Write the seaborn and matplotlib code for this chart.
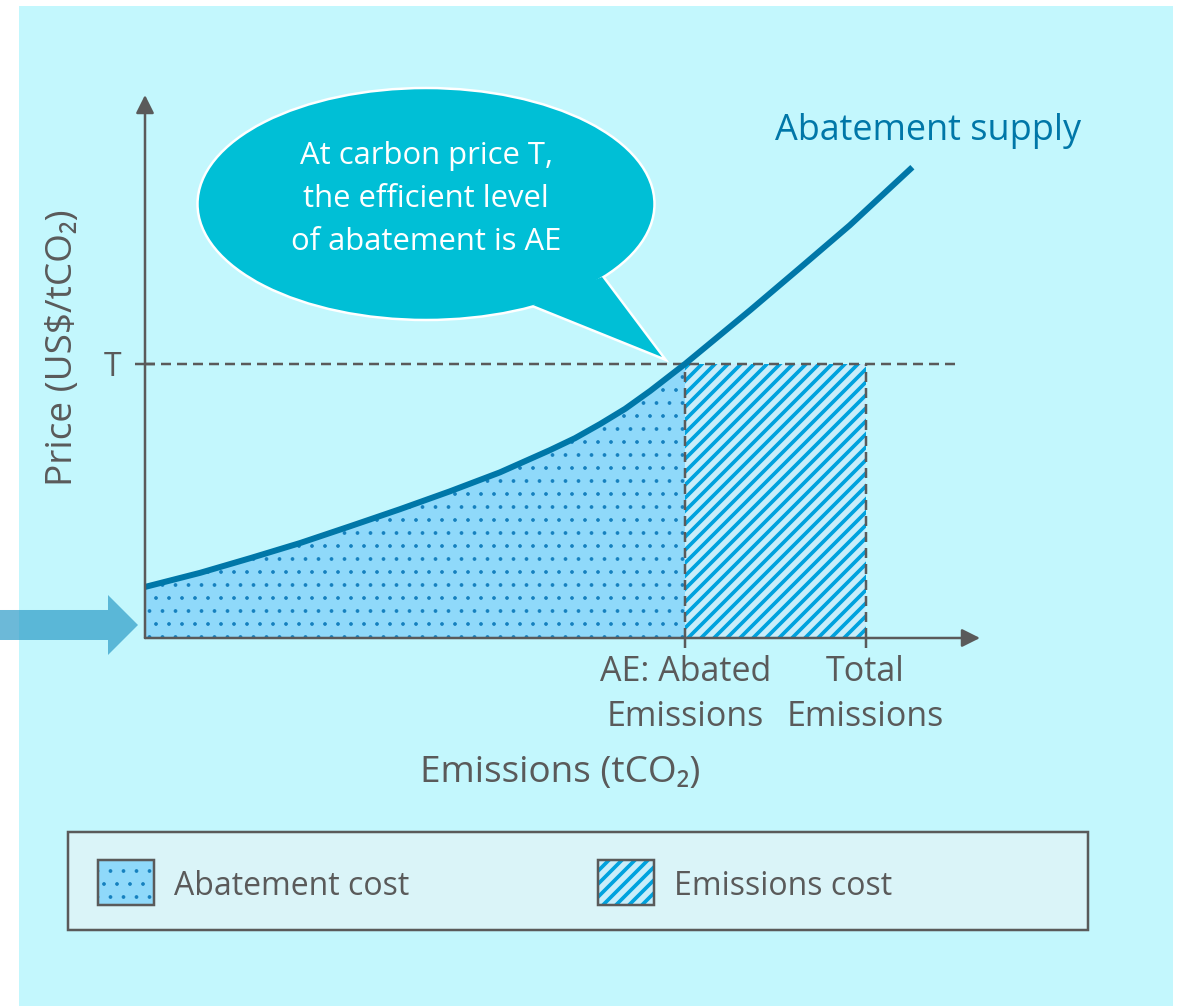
from matplotlib.patches import Ellipse, FancyArrow, Polygon, Rectangle
import matplotlib.pyplot as plt
import pandas as pd
import seaborn as sns

sns.set_theme(style="white")
plt.rcParams["font.family"] = ["Open Sans", "DejaVu Sans"]

DPI = 78
W, H = 1178, 1006


def pt(px):
    return px * 72 / DPI


# values (x: emissions, y: price, arbitrary units 0-10)
emissions = [0.00, 0.66, 1.26, 1.86, 2.46, 3.05, 3.65, 4.25, 4.85, 5.15,
             5.45, 5.75, 6.05, 6.26, 6.47, 7.25, 7.84, 8.44, 9.19]
price = [0.94, 1.20, 1.47, 1.75, 2.06, 2.37, 2.70, 3.05, 3.46, 3.68,
         3.94, 4.22, 4.55, 4.80, 5.05, 6.04, 6.81, 7.60, 8.67]
carbon_price = 5.05
abated_emissions = 6.47
total_emissions = 8.63
price_line_end = 9.70
x_tick_labels = ["AE: Abated\nEmissions", "Total\nEmissions"]
y_tick_labels = ["T"]
legend_labels = ["Abatement cost", "Emissions cost"]
bubble_text = "At carbon price T,\nthe efficient level\nof abatement is AE"
curve_label = "Abatement supply"

BG = "#C3F7FD"
GREY = "#5A5A5A"
CURVE = "#0077A8"
DOT_FILL = "#8FD9FA"
DOT_COLOR = "#1580BE"
STRIPE_FILL = "#C8EDFA"
STRIPE_COLOR = "#00A2DE"
BUBBLE = "#00BFD6"
LEGEND_BG = "#DAF4F8"
ARROW = "#2E9CC8"

df = pd.DataFrame({"emissions": emissions, "price": price})

fig = plt.figure(figsize=((W + 0.01) / DPI, (H + 0.01) / DPI), dpi=DPI, facecolor="white")

# background layer in pixel units for the decorations
bg = fig.add_axes([0, 0, 1, 1], zorder=0)
bg.set_xlim(0, W)
bg.set_ylim(H, 0)
bg.axis("off")
bg.add_patch(Rectangle((19, 6), 1154, 1000, facecolor=BG, edgecolor="none"))

# speech bubble
tail = [(533, 305), (662, 357), (602, 277)]
bg.add_patch(Polygon(tail, closed=True, facecolor=BUBBLE, edgecolor="white",
                     lw=pt(5), joinstyle="miter", zorder=2))
bg.add_patch(Ellipse((426, 204), 457, 232, facecolor=BUBBLE, edgecolor="white",
                     lw=pt(2.5), zorder=3))
bg.add_patch(Polygon(tail, closed=True, facecolor=BUBBLE, edgecolor="none", zorder=4))
bg.text(426, 199, bubble_text, ha="center", va="center", color="white",
        fontsize=pt(31), linespacing=1.58, zorder=5)

bg.text(775, 140, curve_label, ha="left", va="baseline", color=CURVE, fontsize=pt(36))

# arrow on the left
bg.add_patch(FancyArrow(0, 625, 138, 0, width=30, head_width=60, head_length=30,
                        length_includes_head=True, facecolor=ARROW, edgecolor="none",
                        alpha=0.7, zorder=2))

# legend box
bg.add_patch(Rectangle((68, 832), 1020, 98, facecolor=LEGEND_BG, edgecolor=GREY,
                       lw=pt(2.5), zorder=2))
swatches = [
    (98, DOT_FILL, DOT_COLOR, ".", 1.0),
    (598, STRIPE_FILL, STRIPE_COLOR, "//", 3.4),
]
for (x0, fc, hc, hatch, hlw), label in zip(swatches, legend_labels):
    sw = Rectangle((x0, 860), 56, 45, facecolor=fc, edgecolor=hc, hatch=hatch, lw=0, zorder=3)
    if hasattr(sw, "set_hatch_linewidth"):
        sw.set_hatch_linewidth(hlw)
    bg.add_patch(sw)
    bg.add_patch(Rectangle((x0, 860), 56, 45, facecolor="none", edgecolor=GREY,
                           lw=pt(2.5), zorder=4))
    bg.text(x0 + 76, 895, label, ha="left", va="baseline", color=GREY, fontsize=pt(32))

# main chart
ax = fig.add_axes([145 / W, 1 - 638 / H, (980 - 145) / W, (638 - 95) / H], zorder=1)
ax.patch.set_visible(False)
ax.set_xlim(0, 10)
ax.set_ylim(0, 10)
for s in ax.spines.values():
    s.set_visible(False)

under = df[df["emissions"] <= abated_emissions]
dots = ax.fill_between(under["emissions"], 0, under["price"], facecolor=DOT_FILL,
                       edgecolor=DOT_COLOR, hatch=".", linewidth=0, zorder=1)
stripes = Rectangle((abated_emissions, 0), total_emissions - abated_emissions, carbon_price,
                    facecolor=STRIPE_FILL, edgecolor=STRIPE_COLOR, hatch="//", lw=0, zorder=1)
ax.add_patch(stripes)
if hasattr(stripes, "set_hatch_linewidth"):
    stripes.set_hatch_linewidth(3.4)
    dots.set_hatch_linewidth(1.0)

dash = dict(color=GREY, lw=pt(2.5), ls=(0, (4, 2.4)), zorder=2)
ax.plot([0, price_line_end], [carbon_price, carbon_price], **dash)
ax.plot([abated_emissions, abated_emissions], [0, carbon_price], **dash)
ax.plot([total_emissions, total_emissions], [0, carbon_price], **dash)

sns.lineplot(data=df, x="emissions", y="price", color=CURVE, lw=pt(6), ax=ax,
             zorder=3, legend=False, solid_capstyle="butt", solid_joinstyle="round")

arrow_kw = dict(arrowstyle="-|>,head_length=0.8,head_width=0.4", color=GREY, lw=pt(2.5),
                shrinkA=0, shrinkB=0, mutation_scale=pt(19))
ax.annotate("", xy=(0, 1), xytext=(0, 0), xycoords="axes fraction", arrowprops=arrow_kw,
            annotation_clip=False)
ax.annotate("", xy=(1, 0), xytext=(0, 0), xycoords="axes fraction", arrowprops=arrow_kw,
            annotation_clip=False)

ax.set_xticks([abated_emissions, total_emissions], x_tick_labels)
ax.set_yticks([carbon_price], y_tick_labels)
ax.tick_params(axis="x", bottom=True, direction="out", length=pt(10), width=pt(2.5),
               color=GREY, pad=pt(7), labelsize=pt(34), labelcolor=GREY)
ax.tick_params(axis="y", left=True, direction="inout", length=pt(20), width=pt(2.5),
               color=GREY, pad=pt(14), labelsize=pt(32), labelcolor=GREY)
for lbl in ax.get_xticklabels():
    lbl.set_linespacing(1.41)

ax.set_xlabel("Emissions (tCO₂)", fontsize=pt(37), color=GREY)
ax.xaxis.set_label_coords(0.497, (638 - 755) / 543)
ax.set_ylabel("Price (US$/tCO₂)", fontsize=pt(37), color=GREY)
ax.yaxis.set_label_coords((81 - 145) / 835, (638 - 348) / 543)

fig.savefig("out.png", dpi=DPI, facecolor="white")
